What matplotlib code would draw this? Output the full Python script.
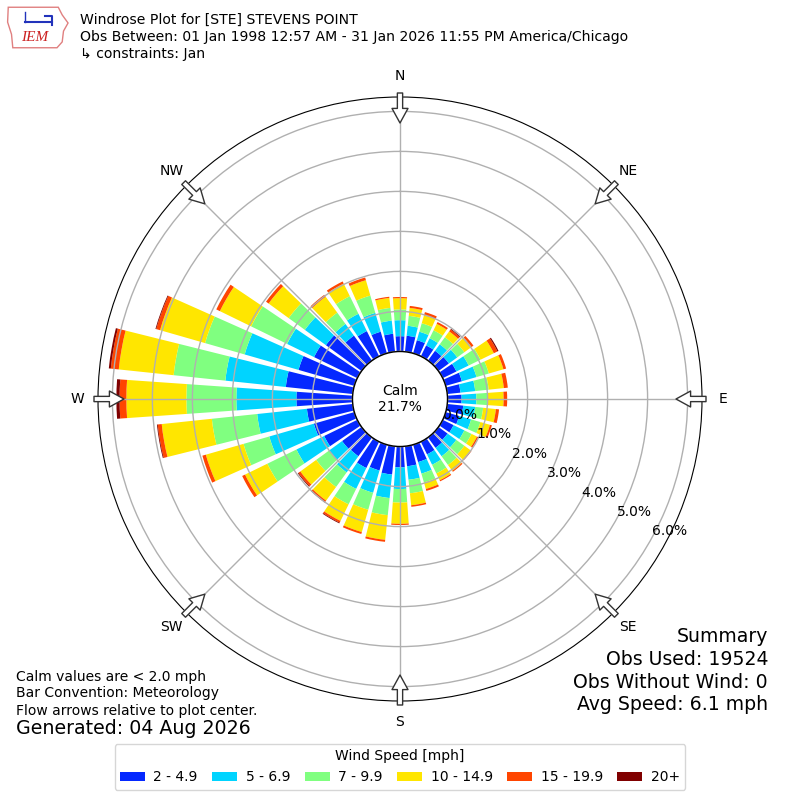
import numpy as np
import matplotlib
matplotlib.use('Agg')
import matplotlib.pyplot as plt
from matplotlib.patches import Circle, FancyArrowPatch, Patch, Polygon

# wind directions (deg, meteorological) and cumulative % at the top of each speed band
directions = np.arange(0, 360, 10)
blue_top = [0.38, 0.40, 0.34, 0.30, 0.30, 0.32, 0.38, 0.42, 0.33, 0.35,
            0.40, 0.35, 0.30, 0.28, 0.32, 0.35, 0.45, 0.50, 0.52, 0.71,
            0.67, 0.73, 0.58, 0.60, 0.92, 1.05, 1.15, 1.40, 1.68, 1.45,
            1.20, 1.10, 0.77, 0.70, 0.56, 0.45]
cyan_top = [0.78, 0.65, 0.56, 0.50, 0.50, 0.58, 0.72, 0.80, 0.70, 0.72,
            0.70, 0.66, 0.60, 0.55, 0.58, 0.64, 0.75, 0.84, 1.06, 1.30,
            1.25, 1.31, 1.08, 1.00, 1.69, 2.21, 2.40, 2.90, 3.20, 2.85,
            1.95, 1.75, 1.13, 1.18, 1.05, 0.78]
green_top = [1.05, 0.90, 0.78, 0.72, 0.72, 0.80, 1.05, 1.12, 1.04, 1.00,
             0.90, 0.90, 0.80, 0.80, 0.85, 0.88, 0.98, 1.18, 1.40, 1.73,
             1.69, 1.74, 1.53, 1.40, 2.50, 2.88, 3.54, 4.15, 4.50, 3.88,
             2.95, 2.25, 1.48, 1.67, 1.50, 1.10]
yellow_top = [1.33, 1.10, 0.99, 0.90, 0.90, 1.02, 1.42, 1.50, 1.42, 1.40,
              1.22, 1.15, 0.95, 1.00, 1.03, 1.07, 1.15, 1.48, 1.93, 2.35,
              2.27, 2.20, 1.95, 1.89, 3.12, 3.86, 4.80, 5.65, 5.88, 5.05,
              3.82, 2.87, 1.97, 2.02, 1.90, 1.35]
orange_top = [1.36, 1.15, 1.07, 0.95, 0.96, 1.08, 1.52, 1.57, 1.52, 1.49,
              1.30, 1.20, 0.99, 1.02, 1.06, 1.10, 1.20, 1.52, 1.96, 2.40,
              2.32, 2.25, 1.99, 1.95, 3.20, 3.95, 4.90, 5.82, 6.08, 5.15,
              3.92, 2.95, 2.03, 2.08, 1.97, 1.38]
darkred_top = [1.36, 1.15, 1.07, 0.95, 0.98, 1.08, 1.55, 1.57, 1.52, 1.49,
               1.30, 1.20, 0.99, 1.02, 1.06, 1.10, 1.20, 1.52, 1.96, 2.40,
               2.32, 2.27, 2.01, 1.97, 3.20, 3.95, 4.92, 5.90, 6.13, 5.17,
               3.92, 2.95, 2.03, 2.08, 1.97, 1.38]

speed_bins = ['2 - 4.9', '5 - 6.9', '7 - 9.9', '10 - 14.9', '15 - 19.9', '20+']
colors = ['#0528ff', '#00d4ff', '#80ff80', '#ffe600', '#ff4500', '#800000']
compass = ['N', 'NE', 'E', 'SE', 'S', 'SW', 'W', 'NW']
ring_values = [0, 1, 2, 3, 4, 5, 6]
calm_pct = 21.7

fig = plt.figure(figsize=(8, 8), dpi=100)
ax = fig.add_axes([0.1225, 0.12375, 0.755, 0.755], projection='polar')
ax.set_theta_zero_location('N')
ax.set_theta_direction(-1)
ax.set_rorigin(-1.19)
ax.set_ylim(0, 6.36)

theta = np.radians(directions)
bottom = np.zeros(len(directions))
for top, c in zip([blue_top, cyan_top, green_top, yellow_top, orange_top, darkred_top], colors):
    top = np.array(top)
    ax.bar(theta, top - bottom, width=np.radians(8), bottom=bottom, color=c, linewidth=0)
    bottom = top

ax.set_axisbelow(False)
ax.grid(color='#b0b0b0', linewidth=1)
ax.set_rgrids(ring_values, labels=['%.1f%%' % v for v in ring_values], angle=119, fontsize=10)
ax.set_xticks(np.radians(np.arange(0, 360, 45)))
ax.set_xticklabels(compass, fontsize=10)
ax.tick_params(axis='x', pad=4.5)
ax.spines['polar'].set_color('black')

# calm circle
ax.add_patch(Circle((0.5, 0.5), 47.5 / 604, transform=ax.transAxes, facecolor='white',
                    edgecolor='black', linewidth=1, zorder=5, clip_on=False))
ax.text(0.5, 0.5, 'Calm\n%.1f%%' % calm_pct, transform=ax.transAxes, ha='center',
        va='center', fontsize=10, zorder=6)

# flow arrows at the compass points
for a in np.arange(0, 360, 45):
    dx, dy = np.sin(np.radians(a)), np.cos(np.radians(a))
    r_tail, r_tip = 306 / 604, 276 / 604
    arr = FancyArrowPatch((0.5 + r_tail * dx, 0.5 + r_tail * dy), (0.5 + r_tip * dx, 0.5 + r_tip * dy),
                          transform=ax.transAxes, arrowstyle='simple,head_length=10.5,head_width=11.5,tail_width=3.8',
                          mutation_scale=1, shrinkA=0, shrinkB=0, facecolor='white', edgecolor='#333333',
                          linewidth=1, zorder=7, clip_on=False)
    ax.add_patch(arr)

# header
fig.text(0.1, 0.975, 'Windrose Plot for [STE] STEVENS POINT', fontsize=10.1, va='center')
fig.text(0.1, 0.954, 'Obs Between: 01 Jan 1998 12:57 AM - 31 Jan 2026 11:55 PM America/Chicago',
         fontsize=10.1, va='center')
fig.text(0.1, 0.9325, '\u21b3 constraints: Jan', fontsize=10.1, va='center')

# logo
lax = fig.add_axes([0.00625, 0.9375, 0.08125, 0.05625])
lax.set_xlim(0, 1)
lax.set_ylim(0, 1)
lax.axis('off')
lax.add_patch(Polygon([(0.05, 0.95), (0.82, 0.95), (0.88, 0.78), (0.97, 0.6), (0.9, 0.42),
                       (0.88, 0.18), (0.8, 0.05), (0.12, 0.05), (0.1, 0.35), (0.04, 0.62)],
                      closed=True, fill=False, edgecolor='#e08080', linewidth=1))
lax.plot([0.3, 0.72], [0.62, 0.62], color='#2233bb', linewidth=1.5)
lax.plot([0.3, 0.3], [0.62, 0.85], color='#2233bb', linewidth=1)
lax.plot([0.62, 0.72, 0.72], [0.75, 0.75, 0.55], color='#2233bb', linewidth=1.5)
lax.text(0.45, 0.27, 'IEM', color='#cc2222', fontsize=11, style='italic',
         family='Liberation Serif', ha='center', va='center')

# footer notes
fig.text(0.02, 0.154, 'Calm values are < 2.0 mph', fontsize=10, va='center')
fig.text(0.02, 0.134, 'Bar Convention: Meteorology', fontsize=10, va='center')
fig.text(0.02, 0.1115, 'Flow arrows relative to plot center.', fontsize=10, va='center')
fig.text(0.02, 0.089, 'Generated: 04 Aug 2026', fontsize=13.7, va='center')

fig.text(0.96, 0.205, 'Summary', fontsize=13.6, ha='right', va='center')
fig.text(0.96, 0.176, 'Obs Used: 19524', fontsize=13.6, ha='right', va='center')
fig.text(0.96, 0.1475, 'Obs Without Wind: 0', fontsize=13.6, ha='right', va='center')
fig.text(0.96, 0.119, 'Avg Speed: 6.1 mph', fontsize=13.6, ha='right', va='center')

handles = [Patch(facecolor=c, edgecolor='none') for c in colors]
fig.legend(handles, speed_bins, ncol=6, loc='lower center', bbox_to_anchor=(0.5, 0.004),
           title='Wind Speed [mph]', fontsize=10, title_fontsize=10, handlelength=1.8,
           handleheight=0.6, handletextpad=0.6, columnspacing=1.05, frameon=True)

fig.savefig('out.png', dpi=100)
